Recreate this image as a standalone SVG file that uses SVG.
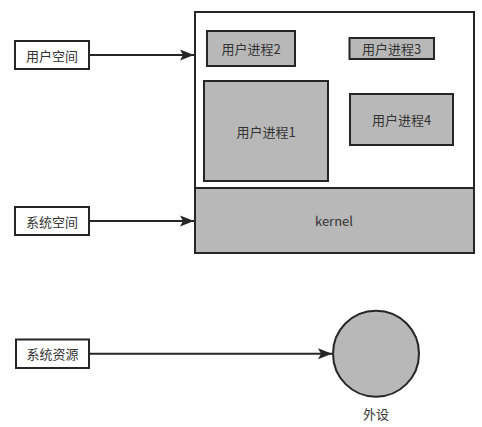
<svg xmlns="http://www.w3.org/2000/svg" width="482" height="427" viewBox="0 0 482 427">
<style>
.box{fill:#ffffff;stroke:#262626;stroke-width:2}
.g{fill:#b8b8b8;stroke:#262626;stroke-width:2}
.t{font-family:"Noto Sans CJK SC","Liberation Sans",sans-serif;font-size:13px;fill:#333333;text-anchor:middle;dominant-baseline:central}
.c{stroke:#262626;stroke-width:2;fill:none}
</style>
<defs>
<marker id="ah" markerUnits="userSpaceOnUse" markerWidth="16" markerHeight="12" refX="14" refY="6" orient="auto">
<path d="M0,0.5 L14,6 L0,11.5 L3,6 Z" fill="#262626"/>
</marker>
</defs>
<rect width="482" height="427" fill="#ffffff"/>
<g id="container">
<rect x="195" y="12" width="279" height="176" class="box"/>
</g>
<g id="kernel">
<rect x="195" y="188" width="279" height="65" class="g"/>
<text x="334" y="220" class="t">kernel</text>
</g>
<g id="p2">
<rect x="207" y="31" width="88" height="35" class="g"/>
<text x="251" y="48.5" class="t">用户进程2</text>
</g>
<g id="p3">
<rect x="349.5" y="38" width="84.5" height="21" class="g"/>
<text x="391.5" y="48.5" class="t">用户进程3</text>
</g>
<g id="p1">
<rect x="204" y="81" width="124" height="100" class="g"/>
<text x="266" y="131" class="t">用户进程1</text>
</g>
<g id="p4">
<rect x="350" y="94" width="103" height="51" class="g"/>
<text x="401.5" y="119.5" class="t">用户进程4</text>
</g>
<g id="userspace">
<rect x="15" y="41" width="74" height="28" class="box"/>
<text x="52" y="55" class="t">用户空间</text>
</g>
<g id="sysspace">
<rect x="15" y="207" width="74" height="28" class="box"/>
<text x="52" y="221" class="t">系统空间</text>
</g>
<g id="sysres">
<rect x="16" y="339.5" width="73" height="28.5" class="box"/>
<text x="52.5" y="353.5" class="t">系统资源</text>
</g>
<g id="device">
<circle cx="376" cy="353.7" r="43" class="g"/>
<text x="376" y="413" class="t">外设</text>
</g>
<g id="connectors">
<line x1="89" y1="55" x2="194" y2="55" class="c" marker-end="url(#ah)"/>
<line x1="89" y1="221" x2="194" y2="221" class="c" marker-end="url(#ah)"/>
<line x1="89" y1="353.7" x2="332" y2="353.7" class="c" marker-end="url(#ah)"/>
</g>
</svg>
